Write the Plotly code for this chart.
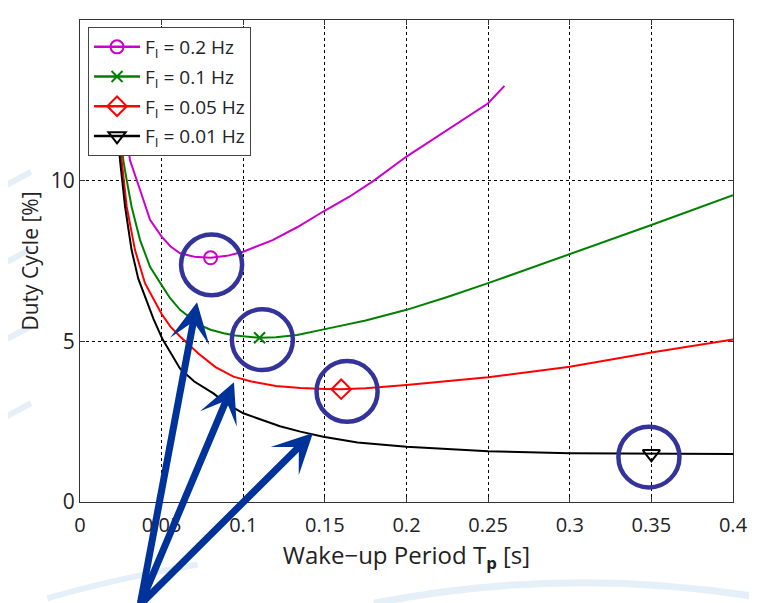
import plotly.graph_objects as go

# ---- data ----
x_02 = [0.022, 0.0306, 0.0368, 0.0429, 0.05, 0.0555, 0.0613, 0.07, 0.08, 0.09, 0.1, 0.118, 0.133, 0.149, 0.165, 0.18, 0.2, 0.2246, 0.25, 0.26]
y_02 = [14.0, 10.64, 9.71, 8.78, 8.26, 7.95, 7.74, 7.63, 7.60, 7.66, 7.79, 8.15, 8.55, 9.04, 9.5, 10.0, 10.75, 11.58, 12.41, 12.95]

x_01 = [0.021, 0.0265, 0.0286, 0.0316, 0.0368, 0.0429, 0.05, 0.0551, 0.0613, 0.0674, 0.0735, 0.08, 0.088, 0.095, 0.11, 0.12, 0.133, 0.15, 0.175, 0.2, 0.225, 0.25, 0.275, 0.3, 0.35, 0.4]
y_01 = [13.8, 10.64, 10.02, 9.19, 8.15, 7.32, 6.75, 6.35, 5.98, 5.75, 5.5, 5.36, 5.25, 5.18, 5.11, 5.13, 5.2, 5.38, 5.65, 5.98, 6.38, 6.81, 7.26, 7.72, 8.62, 9.55]

x_005 = [0.021, 0.0255, 0.0286, 0.0337, 0.0398, 0.045, 0.05, 0.0555, 0.0613, 0.0725, 0.083, 0.094, 0.105, 0.12, 0.135, 0.15, 0.16, 0.175, 0.2, 0.25, 0.3, 0.35, 0.4]
y_005 = [13.3, 10.64, 9.19, 7.84, 6.81, 6.3, 5.85, 5.45, 5.15, 4.62, 4.2, 3.9, 3.75, 3.61, 3.55, 3.52, 3.51, 3.54, 3.64, 3.88, 4.21, 4.65, 5.06]

x_001 = [0.021, 0.0245, 0.0276, 0.0316, 0.0357, 0.0405, 0.045, 0.0505, 0.0613, 0.07, 0.0817, 0.09, 0.1, 0.1225, 0.135, 0.149, 0.17, 0.2, 0.225, 0.25, 0.3, 0.35, 0.4]
y_001 = [13.0, 10.64, 9.19, 7.84, 6.95, 6.29, 5.7, 5.07, 4.15, 3.75, 3.38, 3.05, 2.76, 2.36, 2.19, 2.03, 1.85, 1.72, 1.64, 1.58, 1.52, 1.50, 1.49]

series_names = ["F<sub>I</sub> = 0.2 Hz", "F<sub>I</sub> = 0.1 Hz", "F<sub>I</sub> = 0.05 Hz", "F<sub>I</sub> = 0.01 Hz"]
series_x = [x_02, x_01, x_005, x_001]
series_y = [y_02, y_01, y_005, y_001]
series_colors = ["#CC00CC", "#008000", "#FF0000", "#000000"]
series_symbols = ["circle-open", "x-thin-open", "diamond-open", "triangle-down-open"]
series_msize = [13, 11, 15, 15]

# optimum (minimum) points, marked in the reference
min_x = [0.08, 0.11, 0.16, 0.35]
min_y = [7.60, 5.11, 3.51, 1.50]

# highlight rings around the optima
ring_x = [0.0806, 0.1117, 0.1636, 0.3485]
ring_y = [7.38, 5.05, 3.44, 1.40]
ring_rx = 0.0187
ring_ry = 0.945

# arrows (tips in data units, common tail)
arrow_tip_x = [0.0717, 0.0943, 0.1427]
arrow_tip_y = [6.22, 3.73, 2.15]
arrow_tail_x = 0.0368
arrow_tail_y = -3.2

x_ticks = [0, 0.05, 0.1, 0.15, 0.2, 0.25, 0.3, 0.35, 0.4]
x_ticklabels = ["0", "0.05", "0.1", "0.15", "0.2", "0.25", "0.3", "0.35", "0.4"]
y_ticks = [0, 5, 10, 15]

FONT = "Open Sans"
TXT = "#222222"

fig = go.Figure()

for i in range(4):
    fig.add_trace(go.Scatter(
        x=series_x[i], y=series_y[i], mode="lines",
        line=dict(color=series_colors[i], width=2),
        showlegend=False, hoverinfo="skip"))
for i in range(4):
    fig.add_trace(go.Scatter(
        x=[min_x[i]], y=[min_y[i]], mode="lines+markers",
        name=series_names[i], legendgroup=str(i),
        line=dict(color=series_colors[i], width=2.5),
        marker=dict(symbol=series_symbols[i], size=series_msize[i],
                    color=series_colors[i], line=dict(width=2, color=series_colors[i]))))

shapes = []
# faint decorative background swooshes (slide background)
swoosh = "rgba(120,175,215,0.20)"
shapes.append(dict(type="path", xref="paper", yref="paper", layer="below",
                   path="M 0.45,-0.21 Q 0.75,-0.13 1.05,-0.20",
                   line=dict(color=swoosh, width=7)))
shapes.append(dict(type="path", xref="paper", yref="paper", layer="below",
                   path="M -0.05,-0.20 Q 0.05,-0.16 0.18,-0.13",
                   line=dict(color=swoosh, width=6)))
for yy in [0.68, 0.52, 0.36, 0.20]:
    shapes.append(dict(type="path", xref="paper", yref="paper", layer="below",
                       path=f"M -0.123,{yy-0.03} L -0.075,{yy+0.005}",
                       line=dict(color=swoosh, width=6)))

for cx, cy in zip(ring_x, ring_y):
    shapes.append(dict(type="circle", xref="x", yref="y", layer="above",
                       x0=cx - ring_rx, x1=cx + ring_rx, y0=cy - ring_ry, y1=cy + ring_ry,
                       line=dict(color="#333399", width=4.5)))

annotations = []
for tx, ty in zip(arrow_tip_x, arrow_tip_y):
    annotations.append(dict(
        x=tx, y=ty, xref="x", yref="y",
        ax=arrow_tail_x, ay=arrow_tail_y, axref="x", ayref="y",
        showarrow=True, arrowhead=3, arrowsize=0.95, arrowwidth=7,
        arrowcolor="#003399", text=""))

# page has an 8px body margin: figure sized/margined so the plot area lands
# at the reference position (x 80..733, y 20..502 in the page)
fig.update_layout(
    width=749, height=595,
    margin=dict(l=72, r=24, t=12, b=101),
    paper_bgcolor="white", plot_bgcolor="white",
    font=dict(family=FONT, color=TXT),
    shapes=shapes, annotations=annotations,
    legend=dict(x=0.0123, y=0.9855, xanchor="left", yanchor="top",
                bgcolor="white", bordercolor="#444444", borderwidth=1,
                font=dict(family=FONT, size=19, color=TXT),
                itemwidth=46, tracegroupgap=2),
    showlegend=True,
)
fig.update_xaxes(range=[0, 0.4], tickvals=x_ticks, ticktext=x_ticklabels,
                 automargin=False,
                 showgrid=True, gridcolor="black", griddash="dot", gridwidth=1,
                 zeroline=False, showline=True, linecolor="#333333", linewidth=1,
                 mirror="ticks", ticks="inside", ticklen=5, tickcolor="#333333",
                 ticklabelstandoff=5,
                 tickfont=dict(family=FONT, size=20, color=TXT),
                 title=dict(text="Wake\u2212up Period T<sub><b>p</b></sub> [s]",
                            font=dict(family=FONT, size=24, color=TXT), standoff=2))
fig.update_yaxes(range=[0, 15], tickvals=y_ticks,
                 automargin=False,
                 showgrid=True, gridcolor="black", griddash="dot", gridwidth=1,
                 zeroline=False, showline=True, linecolor="#333333", linewidth=1,
                 mirror="ticks", ticks="inside", ticklen=5, tickcolor="#333333",
                 tickfont=dict(family=FONT, size=21, color=TXT),
                 title=dict(text="Duty Cycle [%]",
                            font=dict(family=FONT, size=21, color=TXT), standoff=6))

fig.write_html("out.html")
